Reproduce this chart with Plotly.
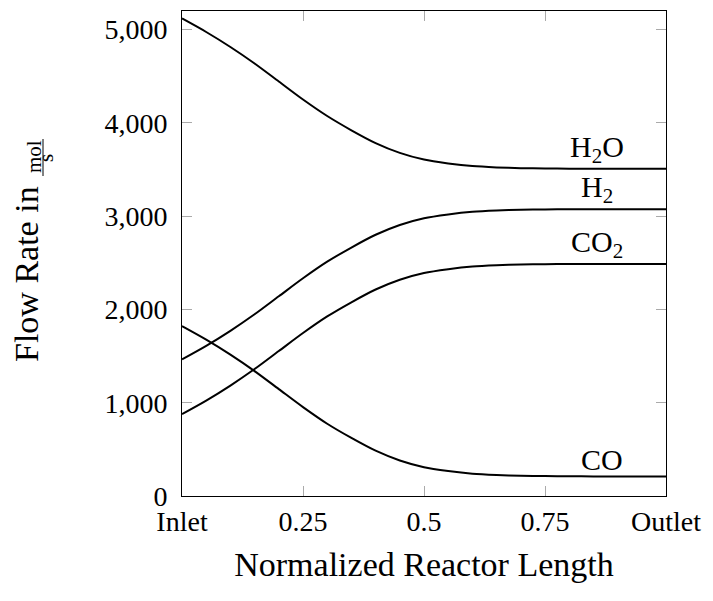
import plotly.graph_objects as go

# Normalized reactor length positions
length = [0.0, 0.05, 0.10, 0.15, 0.20, 0.25, 0.30, 0.35, 0.40, 0.45, 0.50,
          0.55, 0.60, 0.65, 0.70, 0.75, 0.80, 0.85, 0.90, 0.95, 1.0]

# Flow rates in mol/s
h2o = [5120, 4975, 4814, 4637, 4444, 4251, 4074, 3921, 3784, 3679, 3607,
       3566, 3537, 3523, 3515, 3512, 3510, 3510, 3510, 3510, 3510]
h2 = [1465, 1610, 1771, 1948, 2141, 2334, 2512, 2664, 2801, 2906, 2978,
      3019, 3048, 3062, 3070, 3073, 3075, 3075, 3075, 3075, 3075]
co2 = [878, 1023, 1184, 1361, 1554, 1747, 1925, 2077, 2214, 2319, 2391,
       2432, 2461, 2475, 2483, 2486, 2488, 2488, 2488, 2488, 2488]
co = [1822, 1677, 1516, 1339, 1146, 953, 775, 623, 486, 381, 309,
      268, 239, 225, 217, 214, 212, 210, 209, 208, 208]

series_names = ["H<sub>2</sub>O", "H<sub>2</sub>", "CO<sub>2</sub>", "CO"]
series_values = [h2o, h2, co2, co]
label_x = [0.857, 0.857, 0.857, 0.868]

x_tickvals = [0, 0.25, 0.5, 0.75, 1]
x_ticktext = ["Inlet", "0.25", "0.5", "0.75", "Outlet"]
y_tickvals = [0, 1000, 2000, 3000, 4000, 5000]

FONT = "Liberation Serif"
fig = go.Figure()
for name, vals in zip(series_names, series_values):
    fig.add_trace(go.Scatter(x=length, y=vals, mode="lines", name=name,
                             line=dict(color="black", width=2, shape="spline", smoothing=0.8),
                             showlegend=False, hoverinfo="skip"))

for name, vals, lx in zip(series_names, series_values, label_x):
    fig.add_annotation(x=lx, y=vals[-1], text=name, showarrow=False,
                       xanchor="center", yanchor="bottom", yshift=-1,
                       font=dict(family=FONT, size=30, color="black"))

# y axis title with a fraction
fig.add_annotation(xref="paper", yref="paper", x=0, y=(496 - 274) / 485, xshift=-156,
                   text="Flow Rate in", textangle=-90, showarrow=False,
                   xanchor="center", yanchor="middle",
                   font=dict(family=FONT, size=34, color="black"))
fig.add_annotation(xref="paper", yref="paper", x=0, y=(496 - 157) / 485, xshift=-148,
                   text="mol", textangle=-90, showarrow=False,
                   xanchor="center", yanchor="middle",
                   font=dict(family=FONT, size=21, color="black"))
fig.add_annotation(xref="paper", yref="paper", x=0, y=(496 - 158) / 485, xshift=-136,
                   text="s", textangle=-90, showarrow=False,
                   xanchor="center", yanchor="middle",
                   font=dict(family=FONT, size=21, color="black"))
fig.add_shape(type="line", xref="paper", yref="paper", xsizemode="pixel", xanchor=0,
              x0=-139, x1=-139, y0=(496 - 176) / 485, y1=(496 - 139) / 485,
              line=dict(color="black", width=1))

fig.update_layout(
    width=705, height=593,
    margin=dict(l=174, r=47, t=3, b=105),
    paper_bgcolor="white", plot_bgcolor="white",
    font=dict(family=FONT, size=28, color="black"),
    xaxis=dict(range=[0, 1], tickvals=x_tickvals, ticktext=x_ticktext,
               ticks="inside", ticklen=10, tickcolor="#aaaaaa", tickwidth=1,
               showline=True, linecolor="black", linewidth=1, mirror="ticks",
               showgrid=False, zeroline=False, automargin=False,
               title=dict(text="Normalized Reactor Length", standoff=16,
                          font=dict(family=FONT, size=34))),
    yaxis=dict(range=[0, 5200], tickvals=y_tickvals, tickformat=",d",
               ticks="inside", ticklen=10, tickcolor="#aaaaaa", tickwidth=1,
               ticklabelstandoff=8,
               showline=True, linecolor="black", linewidth=1, mirror="ticks",
               showgrid=False, zeroline=False, automargin=False),
)

fig.write_html("out.html")
